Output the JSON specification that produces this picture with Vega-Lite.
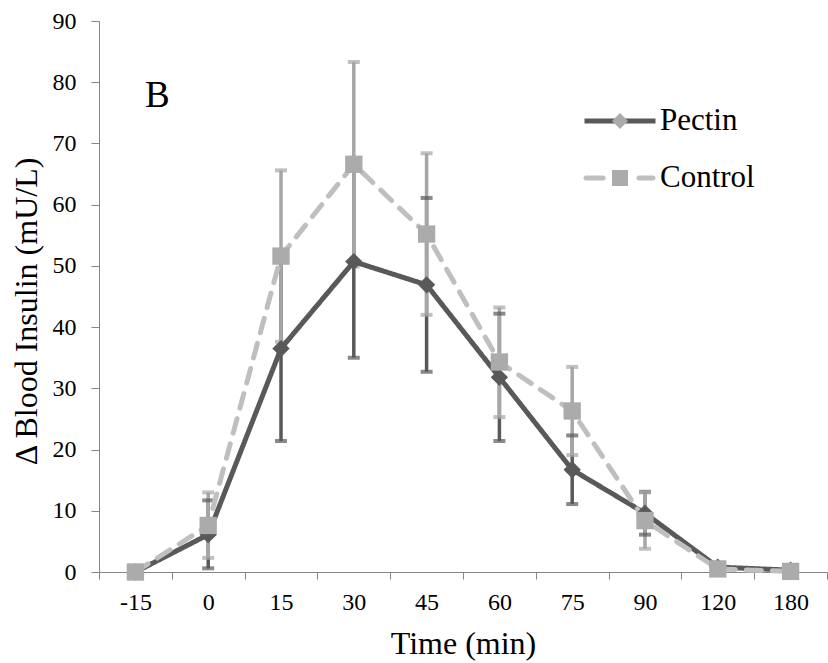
{
  "$schema": "https://vega.github.io/schema/vega-lite/v6.json",
  "width": 728,
  "height": 551,
  "autosize": "none",
  "padding": {"left": 99, "top": 21, "right": 1, "bottom": 91},
  "background": "white",
  "config": {
    "view": {"stroke": null},
    "font": "Liberation Serif",
    "axis": {"labelFont": "Liberation Serif", "titleFont": "Liberation Serif"},
    "legend": {"labelFont": "Liberation Serif", "titleFont": "Liberation Serif"},
    "text": {"font": "Liberation Serif"}
  },
  "data": {
    "values": [
      {"Time": -15, "Series": "Pectin", "mean": 0, "lo": 0, "hi": 0},
      {"Time": 0, "Series": "Pectin", "mean": 6.1, "lo": 0.6, "hi": 11.7},
      {"Time": 15, "Series": "Pectin", "mean": 36.5, "lo": 21.4, "hi": 51.6},
      {"Time": 30, "Series": "Pectin", "mean": 50.7, "lo": 35.0, "hi": 66.4},
      {"Time": 45, "Series": "Pectin", "mean": 46.9, "lo": 32.7, "hi": 61.1},
      {"Time": 60, "Series": "Pectin", "mean": 31.8, "lo": 21.4, "hi": 42.2},
      {"Time": 75, "Series": "Pectin", "mean": 16.7, "lo": 11.1, "hi": 22.3},
      {"Time": 90, "Series": "Pectin", "mean": 9.6, "lo": 6.1, "hi": 13.1},
      {"Time": 120, "Series": "Pectin", "mean": 0.8, "lo": 0.4, "hi": 1.2},
      {"Time": 180, "Series": "Pectin", "mean": 0.3, "lo": 0.1, "hi": 0.5},
      {"Time": -15, "Series": "Control", "mean": 0, "lo": 0, "hi": 0},
      {"Time": 0, "Series": "Control", "mean": 7.6, "lo": 2.3, "hi": 13.0},
      {"Time": 15, "Series": "Control", "mean": 51.6, "lo": 37.6, "hi": 65.6},
      {"Time": 30, "Series": "Control", "mean": 66.6, "lo": 49.9, "hi": 83.3},
      {"Time": 45, "Series": "Control", "mean": 55.2, "lo": 42.0, "hi": 68.4},
      {"Time": 60, "Series": "Control", "mean": 34.3, "lo": 25.3, "hi": 43.2},
      {"Time": 75, "Series": "Control", "mean": 26.3, "lo": 19.1, "hi": 33.5},
      {"Time": 90, "Series": "Control", "mean": 8.4, "lo": 3.8, "hi": 13.0},
      {"Time": 120, "Series": "Control", "mean": 0.5, "lo": 0.2, "hi": 0.8},
      {"Time": 180, "Series": "Control", "mean": 0.1, "lo": 0.0, "hi": 0.2}
    ]
  },
  "encoding": {
    "x": {
      "field": "Time",
      "type": "ordinal",
      "bandPosition": 0.5,
      "scale": {"type": "band", "domain": [-15, 0, 15, 30, 45, 60, 75, 90, 120, 180], "paddingInner": 0, "paddingOuter": 0},
      "axis": {
        "title": "Time (min)",
        "labelAngle": 0,
        "tickBand": "extent",
        "domainColor": "#868686",
        "tickColor": "#868686",
        "tickSize": 7,
        "labelFont": "Liberation Serif",
        "labelFontSize": 24,
        "labelColor": "black",
        "labelPadding": 11,
        "titleFont": "Liberation Serif",
        "titleFontSize": 32,
        "titleFontWeight": "normal",
        "titleColor": "black",
        "titlePadding": 14
      }
    }
  },
  "layer": [
    {
      "mark": {"type": "rule", "strokeWidth": 3.5},
      "encoding": {
        "y": {"field": "lo", "type": "quantitative", "title": "Δ Blood Insulin (mU/L)", "scale": {"domain": [0, 90], "nice": false},
          "axis": {
            "values": [0, 10, 20, 30, 40, 50, 60, 70, 80, 90],
            "grid": false,
            "domainColor": "#868686",
            "tickColor": "#868686",
            "tickSize": 8,
            "labelFont": "Liberation Serif",
            "labelFontSize": 24,
            "labelColor": "black",
            "labelPadding": 15,
            "titleFont": "Liberation Serif",
            "titleFontSize": 32,
            "titleFontWeight": "normal",
            "titleColor": "black",
            "titlePadding": 9,
            "titleY": 290
          }
        },
        "y2": {"field": "hi"},
        "color": {"condition": {"test": "datum.Series === 'Pectin'", "value": "#595959"}, "value": "#A6A6A6"}
      }
    },
    {
      "mark": {"type": "tick", "size": 12, "thickness": 4, "orient": "horizontal"},
      "encoding": {
        "y": {"field": "lo", "type": "quantitative", "title": "Δ Blood Insulin (mU/L)"},
        "color": {"condition": {"test": "datum.Series === 'Pectin'", "value": "#595959"}, "value": "#A6A6A6"}
      }
    },
    {
      "mark": {"type": "tick", "size": 12, "thickness": 4, "orient": "horizontal"},
      "encoding": {
        "y": {"field": "hi", "type": "quantitative", "title": "Δ Blood Insulin (mU/L)"},
        "color": {"condition": {"test": "datum.Series === 'Pectin'", "value": "#595959"}, "value": "#A6A6A6"}
      }
    },
    {
      "mark": {"type": "line", "strokeWidth": 5, "strokeCap": "round", "strokeJoin": "round"},
      "encoding": {
        "y": {"field": "mean", "type": "quantitative", "title": "Δ Blood Insulin (mU/L)"},
        "color": {
          "field": "Series",
          "type": "nominal",
          "scale": {"domain": ["Pectin", "Control"], "range": ["#595959", "#BFBFBF"]},
          "legend": {
            "orient": "none",
            "legendX": 505.5,
            "legendY": 84.5,
            "title": null,
            "padding": 0,
            "symbolSize": 256,
            "symbolStrokeWidth": 0,
            "labelFont": "Liberation Serif",
            "labelFontSize": 31,
            "labelColor": "black",
            "labelOffset": 24.5,
            "rowPadding": 25,
            "encode": {
              "labels": {"update": {"font": {"value": "Liberation Serif"}}},
              "symbols": {
                "update": {
                  "shape": {"signal": "datum.value === 'Pectin' ? 'M-4.44,-0.31H4.44V0.31H-4.44Z' : 'M-4.25,-0.31H-2.1A0.31,0.31 0 0 1 -2.1,0.31H-4.25A0.31,0.31 0 0 1 -4.25,-0.31Z M2.37,-0.31H4.13A0.31,0.31 0 0 1 4.13,0.31H2.37A0.31,0.31 0 0 1 2.37,-0.31Z'"},
                  "fill": {"signal": "datum.value === 'Pectin' ? '#595959' : '#BFBFBF'"},
                  "fillOpacity": {"value": 1},
                  "stroke": {"value": "transparent"},
                  "strokeWidth": {"value": 0},
                  "opacity": {"value": 1}
                }
              }
            }
          }
        },
        "strokeDash": {
          "field": "Series",
          "type": "nominal",
          "scale": {"domain": ["Pectin", "Control"], "range": [[1, 0], [15, 11]]},
          "legend": null
        }
      }
    },
    {
      "mark": {"type": "point", "filled": true, "size": 300, "opacity": 1, "strokeWidth": 0},
      "encoding": {
        "y": {"field": "mean", "type": "quantitative", "title": "Δ Blood Insulin (mU/L)"},
        "shape": {
          "field": "Series",
          "type": "nominal",
          "sort": ["Pectin", "Control"],
          "scale": {"range": ["diamond", "square"]},
          "legend": {
            "orient": "none",
            "legendX": 505.5,
            "legendY": 84.5,
            "title": null,
            "padding": 0,
            "symbolSize": 256,
            "symbolStrokeWidth": 0,
            "labelFont": "Liberation Serif",
            "labelFontSize": 31,
            "labelOpacity": 0,
            "labelOffset": 24.5,
            "rowPadding": 25,
            "encode": {
              "labels": {"update": {"font": {"value": "Liberation Serif"}}},
              "symbols": {
                "update": {
                  "shape": {"signal": "datum.value === 'Pectin' ? 'M-1.1,0L0,-1.1L1.1,0L0,1.1Z' : 'M-0.95,-0.95H0.95V0.95H-0.95Z'"},
                  "fill": {"signal": "datum.value === 'Pectin' ? '#595959' : '#ABABAB'"},
                  "fillOpacity": {"value": 1},
                  "stroke": {"value": "transparent"},
                  "strokeWidth": {"value": 0},
                  "opacity": {"value": 1}
                }
              }
            }
          }
        },
        "color": {"condition": {"test": "datum.Series === 'Pectin'", "value": "#595959"}, "value": "#ABABAB"}
      }
    },
    {
      "data": {"values": [{"label": "B"}]},
      "mark": {"type": "text", "align": "left", "baseline": "alphabetic", "font": "Liberation Serif", "fontSize": 37, "color": "black", "dx": 9.5},
      "encoding": {
        "x": {"datum": -15, "type": "ordinal", "bandPosition": 0.5},
        "y": {"datum": 75.95, "type": "quantitative"},
        "text": {"field": "label"}
      }
    }
  ]
}
